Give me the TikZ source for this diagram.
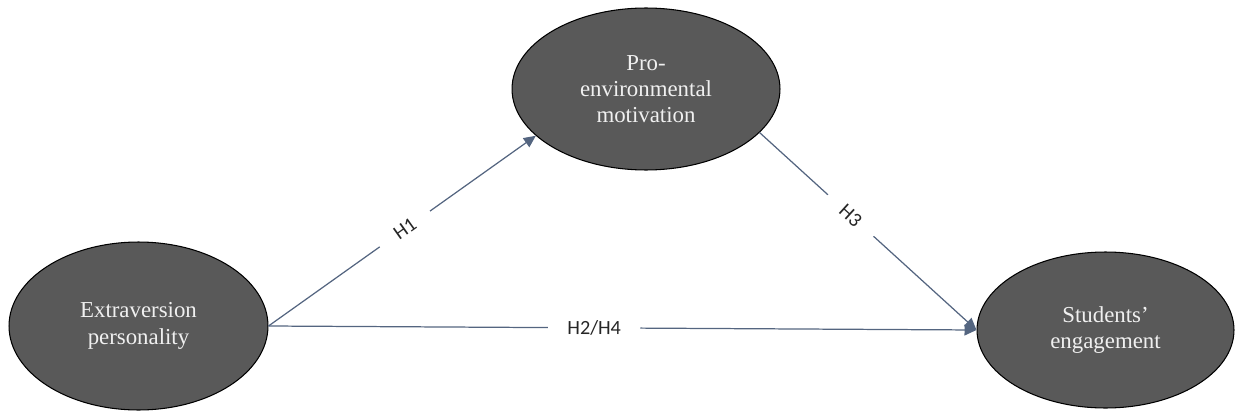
\documentclass[tikz,border=0pt]{standalone}
\usepackage{fontspec}
\setmainfont{Liberation Serif}
\newfontfamily\hypfont{Carlito}
\usetikzlibrary{arrows.meta,shapes.geometric}
\definecolor{ovalgray}{RGB}{89,89,89}
\definecolor{pathblue}{RGB}{84,101,128}
\tikzset{
  construct/.style={draw=black,line width=0.6pt,ellipse,fill=ovalgray,text=white!94!black,inner sep=0pt,align=center,font=\fontsize{13}{15}\selectfont},
  hyp/.style={fill=white,inner xsep=11pt,inner ysep=3pt,sloped,text=black!85,font=\hypfont\fontsize{11.5}{13}\selectfont}
}

\begin{document}
\begin{tikzpicture}[x=0.02cm,y=-0.02cm,>={Triangle[length=2.4mm,width=2.2mm]},line width=0.7pt]
  \useasboundingbox (0,0) rectangle (1236,412);
  \node[construct,minimum width=5.18cm,minimum height=3.36cm] (ext) at (138.5,326) {Extraversion\\personality};
  \node[construct,minimum width=5.36cm,minimum height=3.24cm] (pro) at (646,89) {Pro-\\environmental\\motivation};
  \node[construct,minimum width=5.14cm,minimum height=3.12cm] (eng) at (1105.5,330) {Students’\\engagement};

  \draw[->,pathblue] (ext.east) -- node[hyp,pos=0.51]{H1} (pro.-157);
  \draw[->,pathblue] (pro.-21) -- node[hyp,pos=0.42]{H3} (eng.west);
  \draw[->,pathblue] (ext.east) -- node[hyp,pos=0.46]{H2/H4} (eng.west);
\end{tikzpicture}
\end{document}
